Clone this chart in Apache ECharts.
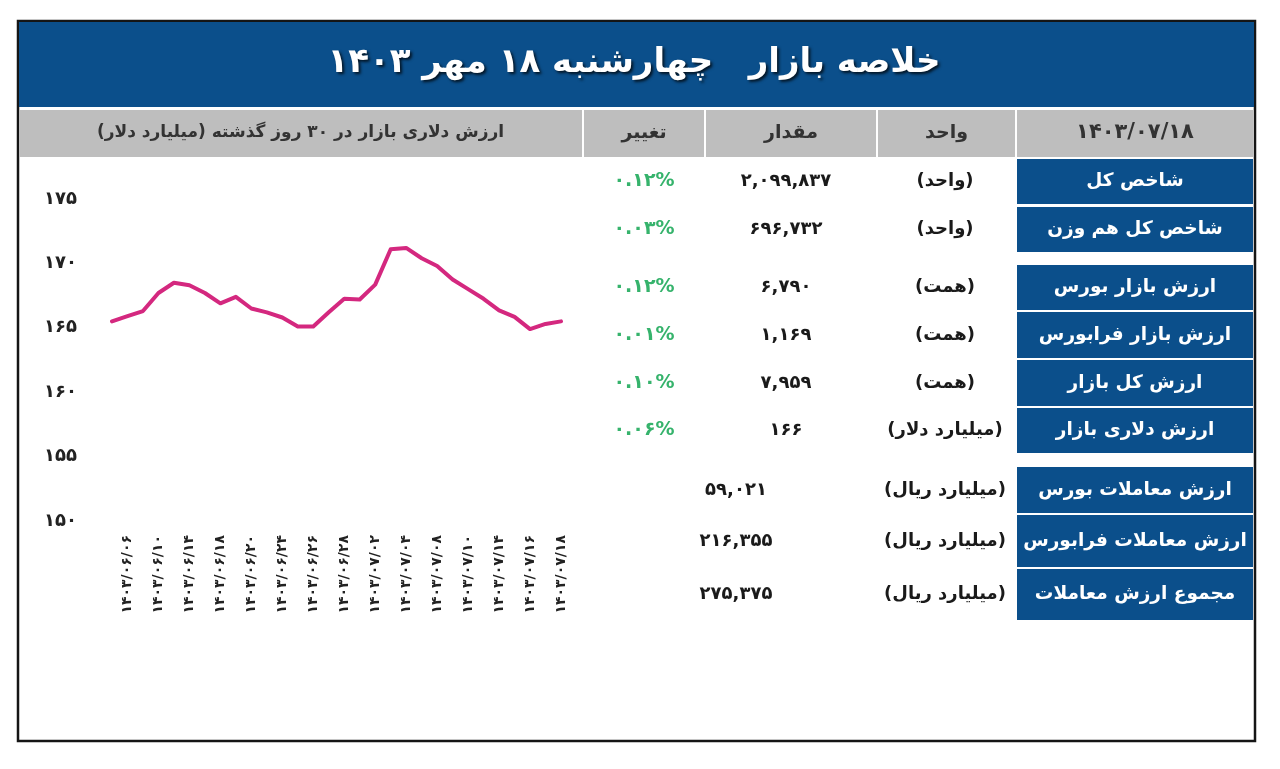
<!DOCTYPE html>
<html>
<head>
<meta charset="utf-8">
<script src="https://cdn.jsdelivr.net/npm/echarts@6/dist/echarts.min.js"></script>
<style>
html,body{margin:0;padding:0;background:#fff;}
#c{width:1280px;height:769px;}
</style>
</head>
<body>
<div id="c"></div>
<script>
// ---------- data ----------
var titleText = 'خلاصه بازار   چهارشنبه ۱۸ مهر ۱۴۰۳';
var chartTitle = '\u200Fارزش دلاری بازار در ۳۰ روز گذشته (میلیارد دلار)\u200F';
var headerDate = '۱۴۰۳/۰۷/۱۸';
var headerUnit = 'واحد';
var headerValue = 'مقدار';
var headerChange = 'تغییر';

var rowLabels = ['شاخص کل','شاخص کل هم وزن','ارزش بازار بورس','ارزش بازار فرابورس','ارزش کل بازار','ارزش دلاری بازار','ارزش معاملات بورس','ارزش معاملات فرابورس','مجموع ارزش معاملات'];
var rowUnits = ['(واحد)','(واحد)','(همت)','(همت)','(همت)','(میلیارد دلار)','(میلیارد ریال)','(میلیارد ریال)','(میلیارد ریال)'];
var rowValues = ['۲,۰۹۹,۸۳۷','۶۹۶,۷۳۲','۶,۷۹۰','۱,۱۶۹','۷,۹۵۹','۱۶۶','۵۹,۰۲۱','۲۱۶,۳۵۵','۲۷۵,۳۷۵'];
var rowChanges = ['۰.۱۲%','۰.۰۳%','۰.۱۲%','۰.۰۱%','۰.۱۰%','۰.۰۶%','','',''];

var dates = ['۱۴۰۳/۰۶/۰۵','۱۴۰۳/۰۶/۰۶','۱۴۰۳/۰۶/۰۷','۱۴۰۳/۰۶/۱۰','۱۴۰۳/۰۶/۱۲','۱۴۰۳/۰۶/۱۴','۱۴۰۳/۰۶/۱۷','۱۴۰۳/۰۶/۱۸','۱۴۰۳/۰۶/۱۹','۱۴۰۳/۰۶/۲۰',
             '۱۴۰۳/۰۶/۲۱','۱۴۰۳/۰۶/۲۴','۱۴۰۳/۰۶/۲۵','۱۴۰۳/۰۶/۲۶','۱۴۰۳/۰۶/۲۷','۱۴۰۳/۰۶/۲۸','۱۴۰۳/۰۶/۳۱','۱۴۰۳/۰۷/۰۲','۱۴۰۳/۰۷/۰۳','۱۴۰۳/۰۷/۰۴',
             '۱۴۰۳/۰۷/۰۷','۱۴۰۳/۰۷/۰۸','۱۴۰۳/۰۷/۰۹','۱۴۰۳/۰۷/۱۰','۱۴۰۳/۰۷/۱۱','۱۴۰۳/۰۷/۱۴','۱۴۰۳/۰۷/۱۵','۱۴۰۳/۰۷/۱۶','۱۴۰۳/۰۷/۱۷','۱۴۰۳/۰۷/۱۸'];
var dollarValue = [165.5,165.9,166.3,167.7,168.5,168.3,167.7,166.9,167.4,166.5,
                   166.2,165.8,165.1,165.1,166.2,167.25,167.2,168.35,171.1,171.2,
                   170.4,169.8,168.75,168.0,167.25,166.35,165.85,164.9,165.3,165.5];
var yTickValues = [150,155,160,165,170,175];
var yTickLabels = ['۱۵۰','۱۵۵','۱۶۰','۱۶۵','۱۷۰','۱۷۵'];

// ---------- layout ----------
var FONT = 'DejaVu Sans';
var BLUE = '#0b4f8b';
var GRAY = '#bebebe';
var rowTops = [159,207,265,312,360,408,467,515,569];
var rowHeights = [45,45,45,46,46,45,46,52,51];
var colX = {chart:[19,582], change:[584,704], value:[706,876], unit:[878,1015], label:[1017,1253]};

var g = [];
// frame
g.push({type:'rect', shape:{x:18,y:21,width:1237,height:720}, style:{fill:'#fff', stroke:'#151515', lineWidth:2.5}, z:-10});
// title bar
g.push({type:'rect', shape:{x:19,y:22,width:1235,height:85}, style:{fill:BLUE}, z:-9});
g.push({type:'text', x:634, y:63, style:{text:titleText, font:'bold 34px "'+FONT+'"', fill:'#fff', align:'center', verticalAlign:'middle', textShadowColor:'rgba(0,0,0,0.75)', textShadowOffsetX:2, textShadowOffsetY:2, textShadowBlur:3}, z:5});
// header cells
var headerCells = [
  [colX.chart, chartTitle, 'bold 17px "'+FONT+'"'],
  [colX.change, headerChange, 'bold 19px "'+FONT+'"'],
  [colX.value, headerValue, 'bold 19px "'+FONT+'"'],
  [colX.unit, headerUnit, 'bold 19px "'+FONT+'"'],
  [colX.label, headerDate, 'bold 21px "'+FONT+'"']
];
headerCells.forEach(function(h){
  g.push({type:'rect', shape:{x:h[0][0], y:110, width:h[0][1]-h[0][0], height:47}, style:{fill:GRAY}, z:-8});
  g.push({type:'text', x:(h[0][0]+h[0][1])/2, y:133, style:{text:h[1], font:h[2], fill:'#333', align:'center', verticalAlign:'middle'}, z:5});
});
// rows
for (var i=0;i<rowLabels.length;i++){
  var cy = rowTops[i] + rowHeights[i]/2;
  g.push({type:'rect', shape:{x:colX.label[0], y:rowTops[i], width:colX.label[1]-colX.label[0], height:rowHeights[i]}, style:{fill:BLUE}, z:-8});
  g.push({type:'text', x:(colX.label[0]+colX.label[1])/2, y:cy, style:{text:rowLabels[i], font:'bold 18.5px "'+FONT+'"', fill:'#fff', align:'center', verticalAlign:'middle'}, z:5});
  g.push({type:'text', x:945, y:cy, style:{text:rowUnits[i], font:'bold 18px "'+FONT+'"', fill:'#1a1a1a', align:'center', verticalAlign:'middle'}, z:5});
  g.push({type:'text', x:(i<6?786:736), y:cy, style:{text:rowValues[i], font:'bold 18px "'+FONT+'"', fill:'#1a1a1a', align:'center', verticalAlign:'middle'}, z:5});
  if (rowChanges[i]) g.push({type:'text', x:644, y:cy, style:{text:rowChanges[i], font:'bold 19px "'+FONT+'"', fill:'#36b36c', align:'center', verticalAlign:'middle'}, z:5});
}

var chart = echarts.init(document.getElementById('c'), null, {renderer:'canvas'});
chart.setOption({
  backgroundColor:'#fff',
  animation:false,
  graphic:g,
  grid:{left:112, top:199, width:449, height:322, containLabel:false},
  xAxis:{
    type:'category', data:dates, boundaryGap:false,
    axisLine:{show:false}, axisTick:{show:false}, splitLine:{show:false},
    axisLabel:{rotate:90, margin:14, fontSize:14, fontWeight:'bold', color:'#222', fontFamily:FONT,
      interval:function(idx){return idx%2===1;}}
  },
  yAxis:{
    type:'value', min:150, max:175, interval:5,
    axisLine:{show:false}, axisTick:{show:false}, splitLine:{show:false},
    axisLabel:{margin:35, fontSize:18, fontWeight:'bold', color:'#222', fontFamily:FONT,
      formatter:function(v){var k=yTickValues.indexOf(v);return k>=0?yTickLabels[k]:'';}}
  },
  series:[{type:'line', data:dollarValue, symbol:'none', smooth:false,
    lineStyle:{color:'#d4287f', width:4, join:'round', cap:'round'}, z:3}]
});
</script>
</body>
</html>
